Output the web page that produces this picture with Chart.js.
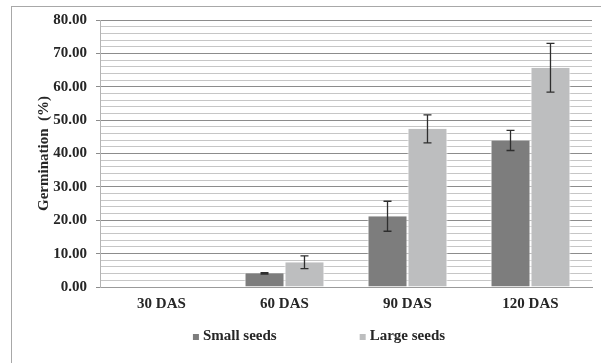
<!DOCTYPE html>
<html>
<head>
<meta charset="utf-8">
<script src="https://cdn.jsdelivr.net/npm/chart.js@4"></script>
<style>
    html, body { margin: 0; padding: 0; background: #fff; overflow: hidden; }
    #wrap { position: relative; width: 601px; height: 363px; }
    #frame { position: absolute; left: 11px; top: 6px; width: 700px; height: 500px; border: 1px solid #a8a8a8; pointer-events: none; }
</style>
</head>
<body>
<div id="wrap">
    <canvas id="canvasGerm" width="601" height="363"></canvas>
    <div id="frame"></div>
</div>
<script>
const categorias = ['30 DAS', '60 DAS', '90 DAS', '120 DAS']
const smallSeeds = [0, 4.1, 21.2, 43.9]
const largeSeeds = [0, 7.4, 47.4, 65.7]
const smallErro = [0, 0.2, 4.5, 3.0]
const largeErro = [0, 1.9, 4.2, 7.3]
const yTicks = [0, 10, 20, 30, 40, 50, 60, 70, 80]

const fonte = { family: '"Liberation Serif", "Times New Roman", serif', size: 15, weight: 'bold' }

// barras de erro desenhadas pela escala do próprio gráfico
const errorBars = {
    id: 'errorBars',
    afterDatasetsDraw(chart) {
        const ctx = chart.ctx
        const y = chart.scales.y
        ctx.save()
        ctx.strokeStyle = '#2e2e2e'
        ctx.lineWidth = 1.3
        chart.data.datasets.forEach((ds, i) => {
            const meta = chart.getDatasetMeta(i)
            meta.data.forEach((bar, j) => {
                const v = ds.data[j], e = ds.erro[j]
                if (!e) return
                const top = y.getPixelForValue(v + e)
                const bot = y.getPixelForValue(v - e)
                ctx.beginPath()
                ctx.moveTo(bar.x, top); ctx.lineTo(bar.x, bot)
                ctx.moveTo(bar.x - 4, top); ctx.lineTo(bar.x + 4, top)
                ctx.moveTo(bar.x - 4, bot); ctx.lineTo(bar.x + 4, bot)
                ctx.stroke()
            })
        })
        ctx.restore()
    }
}

// legenda no estilo do Excel, com espaço largo entre os itens
const legendaLarga = {
    id: 'legendaLarga',
    afterDraw(chart) {
        const ctx = chart.ctx
        const gap = 83
        const box = 6
        ctx.save()
        ctx.font = 'bold 15px "Liberation Serif", "Times New Roman", serif'
        const itens = chart.data.datasets.map(ds => ({
            text: ds.label, color: ds.backgroundColor, w: box + 4 + ctx.measureText(ds.label).width
        }))
        const total = itens.reduce((s, it) => s + it.w, 0) + gap * (itens.length - 1)
        let x = (chart.width + 37) / 2 - total / 2
        const yc = 336
        ctx.textBaseline = 'middle'
        ctx.textAlign = 'left'
        itens.forEach(it => {
            ctx.fillStyle = it.color
            ctx.fillRect(x, yc - box / 2 + 1, box, box)
            ctx.fillStyle = '#262626'
            ctx.fillText(it.text, x + box + 4, yc)
            x += it.w + gap
        })
        ctx.restore()
    }
}

const cardGerm = document.getElementById('canvasGerm').getContext('2d')

germChart(cardGerm)

function germChart(canvas) {
    new Chart(canvas, {
        type: 'bar',
        data: {
            labels: categorias,
            datasets: [
                {
                    label: 'Small seeds',
                    data: smallSeeds,
                    erro: smallErro,
                    backgroundColor: '#7d7d7d',
                    borderColor: '#ffffff',
                    borderWidth: { left: 1, right: 1, top: 0, bottom: 0 }
                },
                {
                    label: 'Large seeds',
                    data: largeSeeds,
                    erro: largeErro,
                    backgroundColor: '#bdbebf',
                    borderColor: '#ffffff',
                    borderWidth: { left: 1, right: 1, top: 0, bottom: 0 }
                }]
        },
        options: {
            responsive: false,
            animation: false,
            devicePixelRatio: 1,
            layout: { padding: { left: 12, right: 9, top: 20, bottom: 40 } },
            datasets: { bar: { categoryPercentage: 0.65, barPercentage: 1.0 } },
            plugins: {
                legend: { display: false },
                tooltip: { enabled: false }
            },
            scales: {
                x: {
                    afterFit: s => { s.height = 36 },
                    grid: { display: false, drawTicks: false },
                    border: { color: '#9a9a9a' },
                    ticks: { color: '#262626', font: fonte, padding: 8 }
                },
                y: {
                    afterFit: s => { s.width = 88 },
                    min: 0,
                    max: 80,
                    ticks: {
                        stepSize: 2,
                        autoSkip: false,
                        color: '#262626',
                        font: fonte,
                        padding: 9,
                        callback: v => yTicks.includes(v) ? v.toFixed(2) : ''
                    },
                    grid: {
                        color: c => c.tick && c.tick.value % 10 === 0 ? '#8c8c8c' : '#c6c6c6',
                        tickColor: c => c.tick && c.tick.value % 10 === 0 ? '#8c8c8c' : 'rgba(0,0,0,0)',
                        tickLength: 4
                    },
                    border: { color: '#b4b4b4' },
                    title: {
                        display: true,
                        text: 'Germination  (%)',
                        color: '#262626',
                        font: fonte,
                        padding: { top: 23, bottom: 0 }
                    }
                }
            }
        },
        plugins: [errorBars, legendaLarga]
    });
}
</script>
</body>
</html>
